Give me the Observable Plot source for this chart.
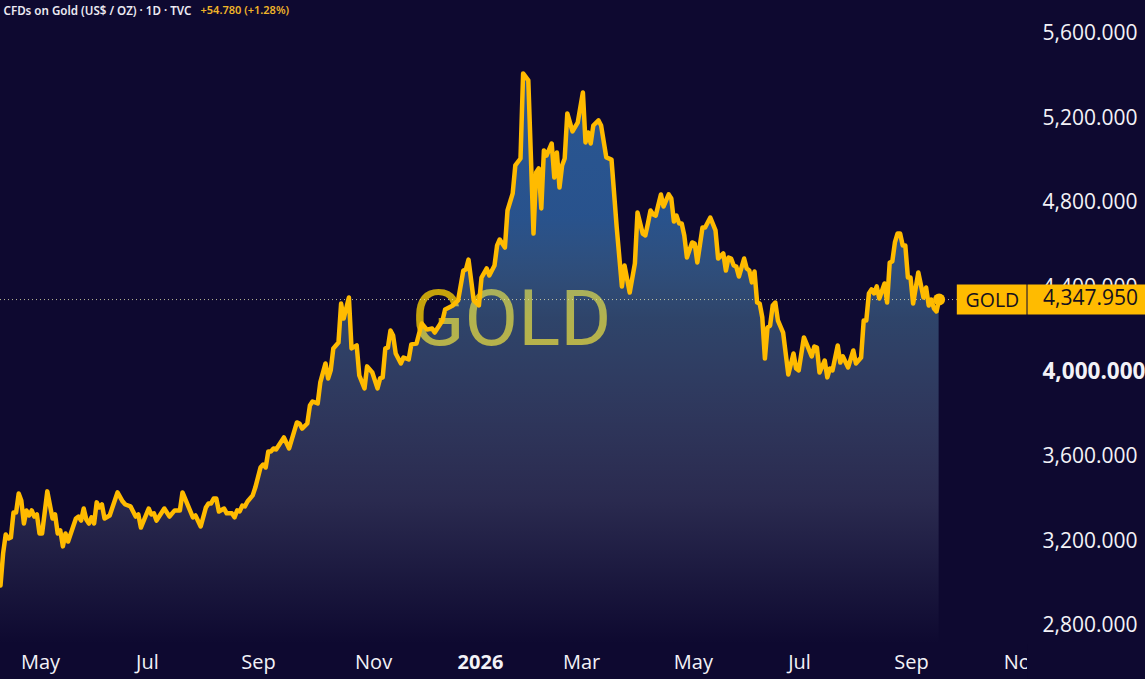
<!DOCTYPE html>
<html>
<head>
<meta charset="utf-8">
<script src="https://cdn.jsdelivr.net/npm/d3@7"></script>
<script src="https://cdn.jsdelivr.net/npm/@observablehq/plot@0.6"></script>
<style>
html,body{margin:0;padding:0;background:#0e0930;overflow:hidden}
svg{display:block}
</style>
</head>
<body>
<div id="chart"></div>
<script>
// Trading-session number of each turning point
const sessions = [0,1,2,3,4,5,6,7,8,9,10,11,12,13,14,15,16,18,20,21,22,23,24,25,26,29,30,31,32,33,34,35,36,37,38,39,40,42,45,47,48,50,52,53,54,57,58,59,60,63,65,67,69,70,74,75,77,79,80,81,82,83,84,86,87,89,90,91,92,93,94,95,97,98,100,101,102,103,104,105,106,109,111,114,115,116,118,119,120,122,123,125,126,127,128,130,131,132,134,135,137,138,140,141,143,145,146,147,148,149,150,151,152,154,155,157,158,160,162,164,166,167,170,171,174,176,178,179,180,182,184,185,187,188,190,191,192,194,195,197,198,200,201,203,205,206,207,208,209,210,212,213,214,215,216,217,218,220,222,224,225,226,227,228,230,231,233,235,237,239,240,242,244,245,247,248,249,250,251,252,254,255,257,258,259,260,261,262,263,264,266,267,268,270,271,273,275,276,278,279,280,281,282,283,284,286,287,288,289,290,291,292,293,294,295,296,297,298,299,301,303,305,306,307,309,312,313,314,315,317,318,319,320,322,323,324,326,328,329,331,332,333,334,335,336,337,338,340,341,342,343,344,345,346,347,348,349,350,351,353,355,356,357,358,359,360,361];
// Closing price at each of those sessions (US$ / oz)
const closes = [2996,3147,3237,3218,3223,3341,3341,3431,3398,3289,3351,3327,3351,3322,3332,3242,3242,3441,3313,3332,3242,3256,3181,3242,3204,3313,3322,3303,3360,3308,3289,3318,3289,3389,3365,3379,3313,3327,3436,3393,3379,3370,3322,3332,3270,3360,3332,3337,3303,3360,3322,3351,3351,3436,3318,3327,3275,3365,3384,3384,3407,3407,3346,3360,3337,3337,3318,3351,3346,3374,3370,3393,3422,3459,3554,3568,3554,3630,3630,3644,3639,3696,3644,3767,3762,3738,3762,3847,3866,3857,3956,4046,3975,4013,4117,4145,4329,4258,4358,4117,4131,3989,3928,4032,4003,3928,3975,3980,4117,4121,4202,4178,4093,4046,4074,4065,4136,4140,4235,4206,4211,4192,4249,4301,4320,4344,4485,4490,4537,4344,4320,4452,4495,4462,4509,4604,4632,4594,4769,4850,4982,5015,5417,5384,4660,4949,4968,4779,5053,5029,5086,4925,5043,4878,4982,5015,5228,5143,5185,5327,5091,5138,5086,5171,5195,5171,5020,5010,4689,4410,4509,4381,4519,4760,4660,4651,4708,4769,4750,4745,4845,4788,4845,4826,4717,4745,4708,4708,4651,4547,4618,4613,4523,4689,4689,4736,4675,4542,4566,4485,4547,4542,4509,4504,4457,4542,4495,4485,4429,4481,4334,4329,4263,4069,4216,4225,4320,4334,4249,4192,3994,4093,4022,4013,4169,4079,4126,4121,4003,4060,3980,4022,4013,4131,4050,4079,4027,4107,4046,4074,4249,4249,4377,4396,4377,4410,4353,4424,4334,4523,4528,4618,4660,4660,4604,4604,4452,4452,4329,4476,4358,4405,4320,4348,4306,4292,4347.95];
const priceTicks = [2800,3200,3600,4400,4800,5200,5600];
const boldPriceTicks = [4000];
const monthTicks = [15.4,56.5,99.2,143.5,223.5,266.5,307.3,350.4,393];
const monthLabels = ["May","Jul","Sep","Nov","Mar","May","Jul","Sep","Nov"];
const yearTicks = [184.6];
const yearLabels = ["2026"];
const symbol = "GOLD";
const lastPrice = 4347.95;
const headerTitle = "CFDs on Gold (US$ / OZ) · 1D · TVC";
const headerChange = "+54.780 (+1.28%)";

const table = sessions.map((s,i)=>({s,c:closes[i]}));
const GOLDC = "#ffbb00", TXT = "#f3f2f7", FONT = "'Open Sans', sans-serif";
const paneEnd = 395, tagStart = 368, lastSession = sessions[sessions.length-1];

const gradient = () => {
  const defs = d3.create("svg:defs");
  const g = defs.append("linearGradient").attr("id","areaFade")
    .attr("x1",0).attr("x2",0).attr("y1",0).attr("y2",1);
  [[0,"rgb(70,165,245)",.5],[.25,"rgb(70,165,245)",.47],[.43,"rgb(130,220,255)",.28],[.75,"rgb(200,229,255)",.15],[1,"rgb(200,229,255)",0]]
    .forEach(([o,c,a])=>g.append("stop").attr("offset",o).attr("stop-color",c).attr("stop-opacity",a));
  return defs.node();
};

const chart = Plot.plot({
  width:1145, height:679,
  marginTop:0, marginRight:0, marginBottom:35, marginLeft:0,
  style:{background:"#0e0930", fontFamily:FONT},
  x:{domain:[0,440.38], range:[0,1145]},
  y:{domain:[2717,5762], range:[644,0]},
  marks:[
    gradient,
    // watermark beneath the translucent area
    Plot.text([symbol],{x:[196.5],y:[4251],text:d=>d,fontSize:78,fontFamily:"Roboto, sans-serif",fill:"#ffd200",fillOpacity:.76}),
    Plot.areaY(table,{x:"s",y1:2717,y2:"c",fill:"url(#areaFade)"}),
    Plot.ruleY([lastPrice],{x1:0,x2:tagStart,stroke:"#e8e6b0",strokeOpacity:.8,strokeWidth:1,strokeDasharray:"1,3"}),
    Plot.lineY(table,{x:"s",y:"c",stroke:GOLDC,strokeWidth:4.5,strokeLinejoin:"round",strokeLinecap:"round"}),
    Plot.dot([lastPrice],{x:[lastSession],y:d=>d,r:6,fill:GOLDC}),
    // time axis, clipped at the end of the pane
    Plot.axisX(monthTicks,{anchor:"bottom",tickSize:0,tickPadding:10,fontSize:20,fontWeight:500,fill:TXT,label:null,
      tickFormat:d=>monthLabels[monthTicks.indexOf(d)]}),
    Plot.axisX(yearTicks,{anchor:"bottom",tickSize:0,tickPadding:10,fontSize:20,fontWeight:700,fill:TXT,label:null,
      tickFormat:d=>yearLabels[yearTicks.indexOf(d)]}),
    Plot.rect([0],{x1:paneEnd,x2:440.38,y1:2552,y2:2717,fill:"#0e0930"}),
    // price axis
    Plot.axisY(priceTicks,{anchor:"right",tickSize:0,tickPadding:0,dx:-103,dy:-1.5,fontSize:21,fontWeight:500,fill:TXT,label:null,
      tickFormat:d3.format(",.3f")}),
    Plot.axisY(boldPriceTicks,{anchor:"right",tickSize:0,tickPadding:0,dx:-103,dy:-1.5,fontSize:22.5,fontWeight:700,fill:TXT,label:null,
      tickFormat:d3.format(",.3f")}),
    // last-price tag
    Plot.ruleY([lastPrice],{x1:tagStart,x2:paneEnd-.2,stroke:GOLDC,strokeWidth:30}),
    Plot.ruleY([lastPrice],{x1:paneEnd+.2,x2:440.38,stroke:GOLDC,strokeWidth:30}),
    Plot.text([symbol],{x:[381.5],y:[lastPrice],text:d=>d,fontSize:19.5,fill:"#14101f",dy:1}),
    Plot.text([lastPrice],{x:[401],y:d=>d,text:d3.format(",.3f"),textAnchor:"start",fontSize:21,fill:"#14101f",dy:-1}),
    // header line
    Plot.text([headerTitle],{frameAnchor:"top-left",text:d=>d,dx:3,dy:6,fontSize:11.6,fontWeight:600,fill:"#eceaf2",fontFamily:"'Noto Sans', sans-serif"}),
    Plot.text([headerChange],{frameAnchor:"top-left",text:d=>d,dx:200,dy:6,fontSize:11,fontWeight:600,fill:"#f0b429",fontFamily:"'Noto Sans', sans-serif"})
  ]
});
document.getElementById("chart").append(chart);
</script>
</body>
</html>
